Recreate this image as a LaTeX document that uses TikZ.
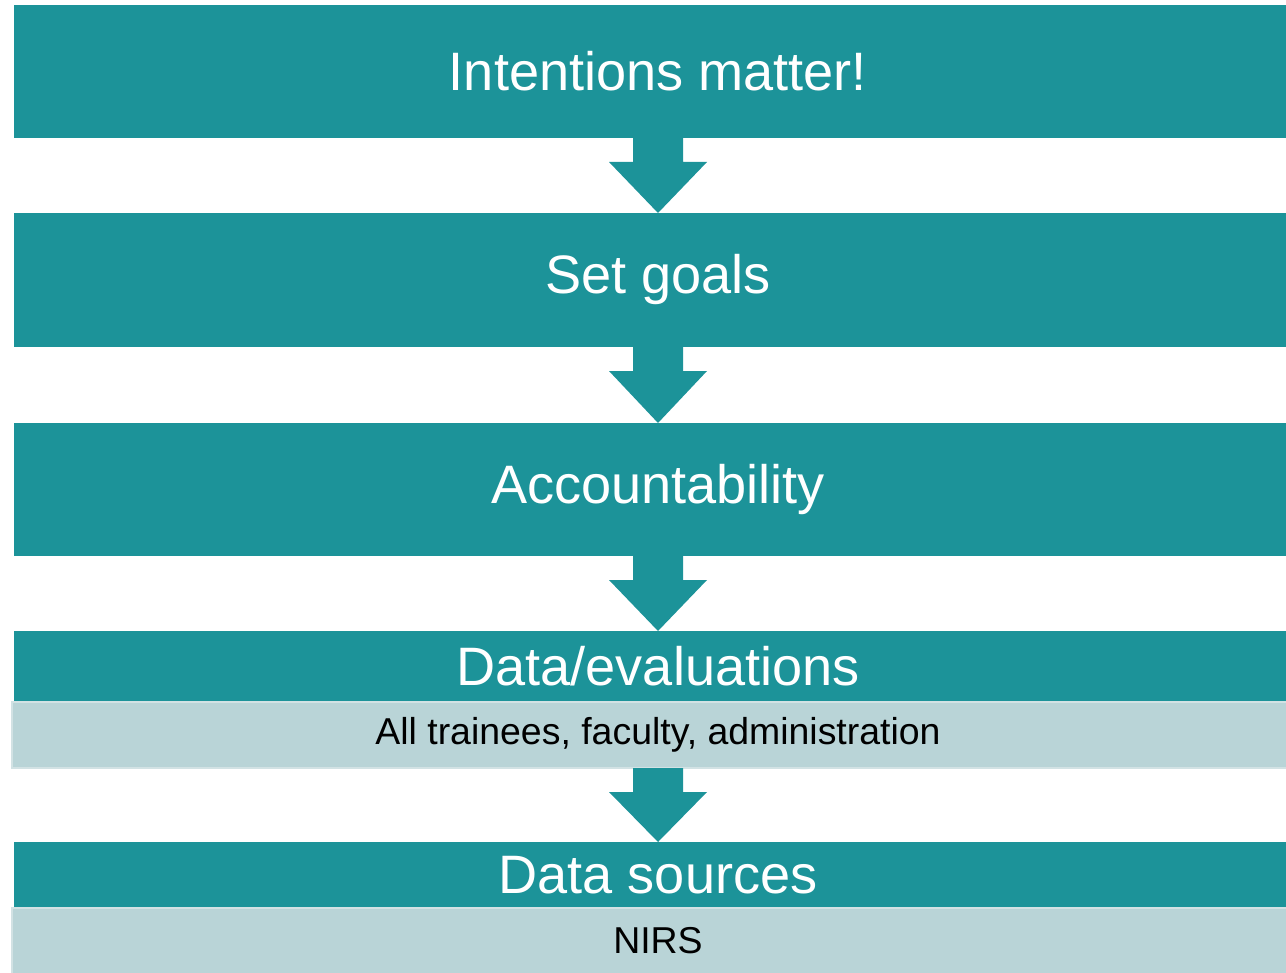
\documentclass[tikz,border=0pt]{standalone}
\usepackage{fontspec}
\setmainfont{Liberation Sans}
\usetikzlibrary{calc}

\definecolor{tealbox}{RGB}{28,147,153}
\definecolor{paleband}{RGB}{185,212,215}
\definecolor{paleedge}{RGB}{210,226,228}

\tikzset{
  stage/.style={fill=tealbox, text=white, inner sep=0pt, outer sep=0pt,
    minimum width=25.76cm, font=\fontsize{30.8}{36}\selectfont},
  band/.style={fill=paleband, draw=paleedge, line width=0.6pt, text=black,
    inner sep=0pt, outer sep=0pt, minimum width=25.84cm, minimum height=1.32cm,
    font=\fontsize{21.3}{25}\selectfont},
  flowarrow/.style={fill=tealbox}
}

\begin{document}
\begin{tikzpicture}
        \useasboundingbox (0,0) rectangle (25.72,-19.46);

        \node[stage, minimum height=2.66cm] (intent) at (13.16,-1.43) {Intentions matter!};
        \node[stage, minimum height=2.68cm] (goals) at (13.16,-5.60) {Set goals};
        \node[stage, minimum height=2.66cm] (account) at (13.16,-9.79) {Accountability};

        \node[stage, minimum height=1.42cm] (data) at (13.16,-13.33) {Data/evaluations};
        \node[band, anchor=north] (all) at (data.south) {All trainees, faculty, administration};

        \node[stage, minimum height=1.32cm] (sources) at (13.16,-17.50) {Data sources};
        \node[band, anchor=north] (nirs) at (sources.south) {NIRS};

        % block arrows between the stages
        \foreach \from/\to in {intent/goals, goals/account, account/data, all/sources}
          \fill[flowarrow] (\from.south) ++(-0.5,0) -- ++(0,-0.48) -- ++(-0.48,0)
            -- (\to.north) -- ($(\from.south)+(0.98,-0.48)$) -- ++(-0.48,0)
            -- ++(0,0.48) -- cycle;
\end{tikzpicture}
\end{document}
